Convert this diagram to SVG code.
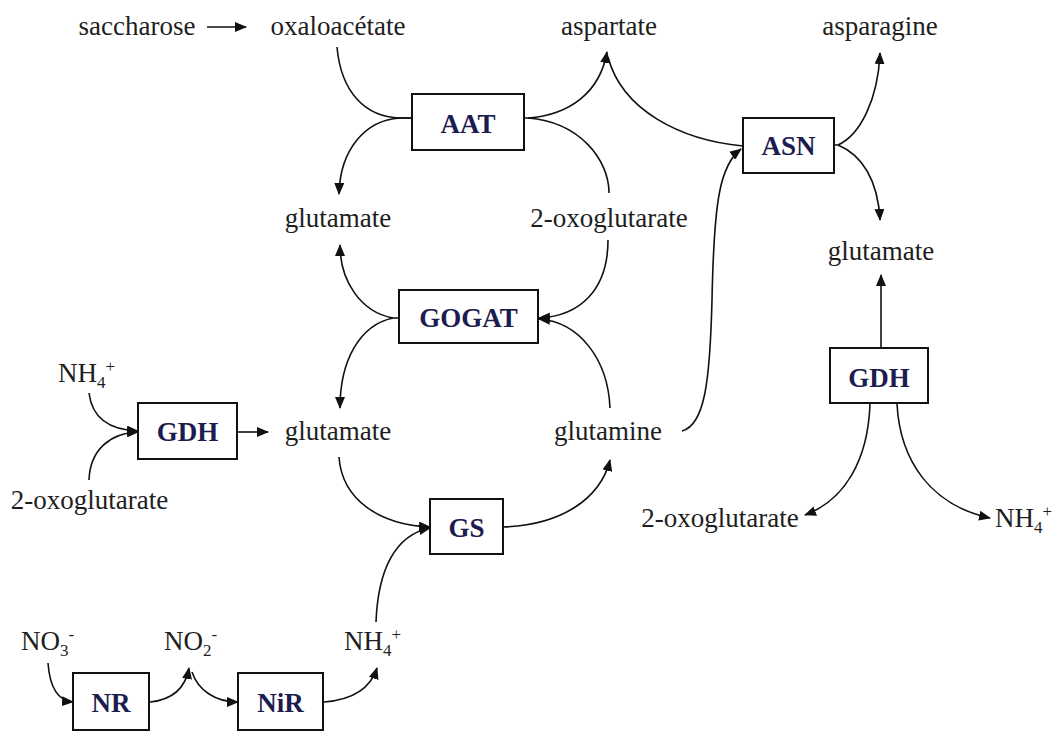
<svg xmlns="http://www.w3.org/2000/svg" width="1062" height="734" viewBox="0 0 1062 734">
<defs>
<style>
.t{font-family:"Liberation Serif","Times New Roman",serif;font-size:27px;fill:#1e1e1e}
.m{text-anchor:middle}
.b{font-family:"Liberation Serif","Times New Roman",serif;font-size:27px;font-weight:bold;fill:#1c1c4e;text-anchor:middle}
.s{font-size:17px}
rect{fill:#fff;stroke:#111;stroke-width:2}
.c path{fill:none;stroke:#111;stroke-width:1.6}
.c path.a{marker-end:url(#ah)}
</style>
<marker id="ah" viewBox="0 0 12 10" refX="11" refY="5" markerWidth="12" markerHeight="10" markerUnits="userSpaceOnUse" orient="auto"><path d="M0,0 L12,5 L0,10 z" fill="#111"/></marker>
</defs>
<rect x="0" y="0" width="1062" height="734" style="fill:#fff;stroke:none"/>

<g class="c" id="connectors">
<path class="a" d="M207,27 L246,27"/>
<path d="M337,47 C341,92 365,117 400,118 L412,118"/>
<path class="a" d="M412,118 L400,118 C365,120 340,150 339,194"/>
<path class="a" d="M524,118 L528,118 C570,115 600,92 607,52"/>
<path d="M528,118 C580,122 609,160 609,193"/>
<path d="M608,57 C622,110 680,140 743,146"/>
<path class="a" d="M682,431 C705,425 710,380 712,300 C714,200 720,165 741,149"/>
<path class="a" d="M834,145 L838,145 C860,135 878,100 880,53"/>
<path class="a" d="M838,145 C862,155 878,180 880,220"/>
<path class="a" d="M608,240 C608,290 580,316 539,318"/>
<path class="a" d="M610,408 C608,360 580,322 539,319"/>
<path class="a" d="M399,318 L393,318 C360,312 340,280 340,245"/>
<path class="a" d="M393,318 C360,325 340,360 340,408"/>
<path class="a" d="M89,393 C92,418 110,430 138,431"/>
<path class="a" d="M89,480 C90,450 110,433 138,432"/>
<path class="a" d="M238,432 L268,432"/>
<path class="a" d="M339,457 C342,500 380,525 430,527"/>
<path class="a" d="M376,622 C378,570 395,535 430,528"/>
<path class="a" d="M503,527 C560,525 600,500 610,460"/>
<path class="a" d="M881,348 L881,275"/>
<path class="a" d="M870,404 C868,460 845,500 805,515"/>
<path class="a" d="M897,404 C900,460 930,505 990,518"/>
<path class="a" d="M48,663 C50,690 60,701 73,702"/>
<path class="a" d="M150,702 C170,700 185,690 189,668"/>
<path class="a" d="M192,672 C198,690 215,702 238,702"/>
<path class="a" d="M324,702 C350,700 370,690 377,668"/>
</g>

<g id="saccharose"><text class="t m" x="137" y="35">saccharose</text></g>
<g id="oxaloacetate"><text class="t m" x="338" y="35">oxaloacétate</text></g>
<g id="aspartate"><text class="t m" x="609" y="35">aspartate</text></g>
<g id="asparagine"><text class="t m" x="880" y="35">asparagine</text></g>
<g id="glutamate1"><text class="t m" x="338" y="227">glutamate</text></g>
<g id="oxoglutarate1"><text class="t m" x="609" y="227">2-oxoglutarate</text></g>
<g id="glutamate2"><text class="t m" x="881" y="260">glutamate</text></g>
<g id="glutamate3"><text class="t m" x="338" y="440">glutamate</text></g>
<g id="glutamine"><text class="t m" x="608" y="440">glutamine</text></g>
<g id="oxoglutarate2"><text class="t m" x="89.5" y="509">2-oxoglutarate</text></g>
<g id="oxoglutarate3"><text class="t m" x="720" y="527">2-oxoglutarate</text></g>
<g id="nh4a"><text class="t" x="58" y="382">NH<tspan class="s" dy="6">4</tspan><tspan class="s" dy="-16">+</tspan></text></g>
<g id="nh4b"><text class="t" x="995" y="527">NH<tspan class="s" dy="6">4</tspan><tspan class="s" dy="-16">+</tspan></text></g>
<g id="nh4c"><text class="t" x="344" y="650">NH<tspan class="s" dy="6">4</tspan><tspan class="s" dy="-16">+</tspan></text></g>
<g id="no3"><text class="t" x="21" y="650">NO<tspan class="s" dy="6">3</tspan><tspan class="s" dy="-16">-</tspan></text></g>
<g id="no2"><text class="t" x="164" y="650">NO<tspan class="s" dy="6">2</tspan><tspan class="s" dy="-16">-</tspan></text></g>

<g id="AAT"><rect x="412" y="94" width="112" height="56"/><text class="b" x="468" y="133">AAT</text></g>
<g id="ASN"><rect x="743" y="118" width="91" height="55"/><text class="b" x="788.5" y="155">ASN</text></g>
<g id="GOGAT"><rect x="399" y="290" width="139" height="53"/><text class="b" x="468.5" y="327">GOGAT</text></g>
<g id="GDH1"><rect x="138" y="403" width="99" height="56"/><text class="b" x="187.5" y="441">GDH</text></g>
<g id="GS"><rect x="430" y="499" width="73" height="55"/><text class="b" x="466.5" y="537">GS</text></g>
<g id="GDH2"><rect x="830" y="348" width="98" height="55"/><text class="b" x="879" y="387">GDH</text></g>
<g id="NR"><rect x="73" y="673" width="76" height="57"/><text class="b" x="111" y="712">NR</text></g>
<g id="NiR"><rect x="238" y="673" width="85" height="57"/><text class="b" x="280.5" y="712">NiR</text></g>
</svg>
